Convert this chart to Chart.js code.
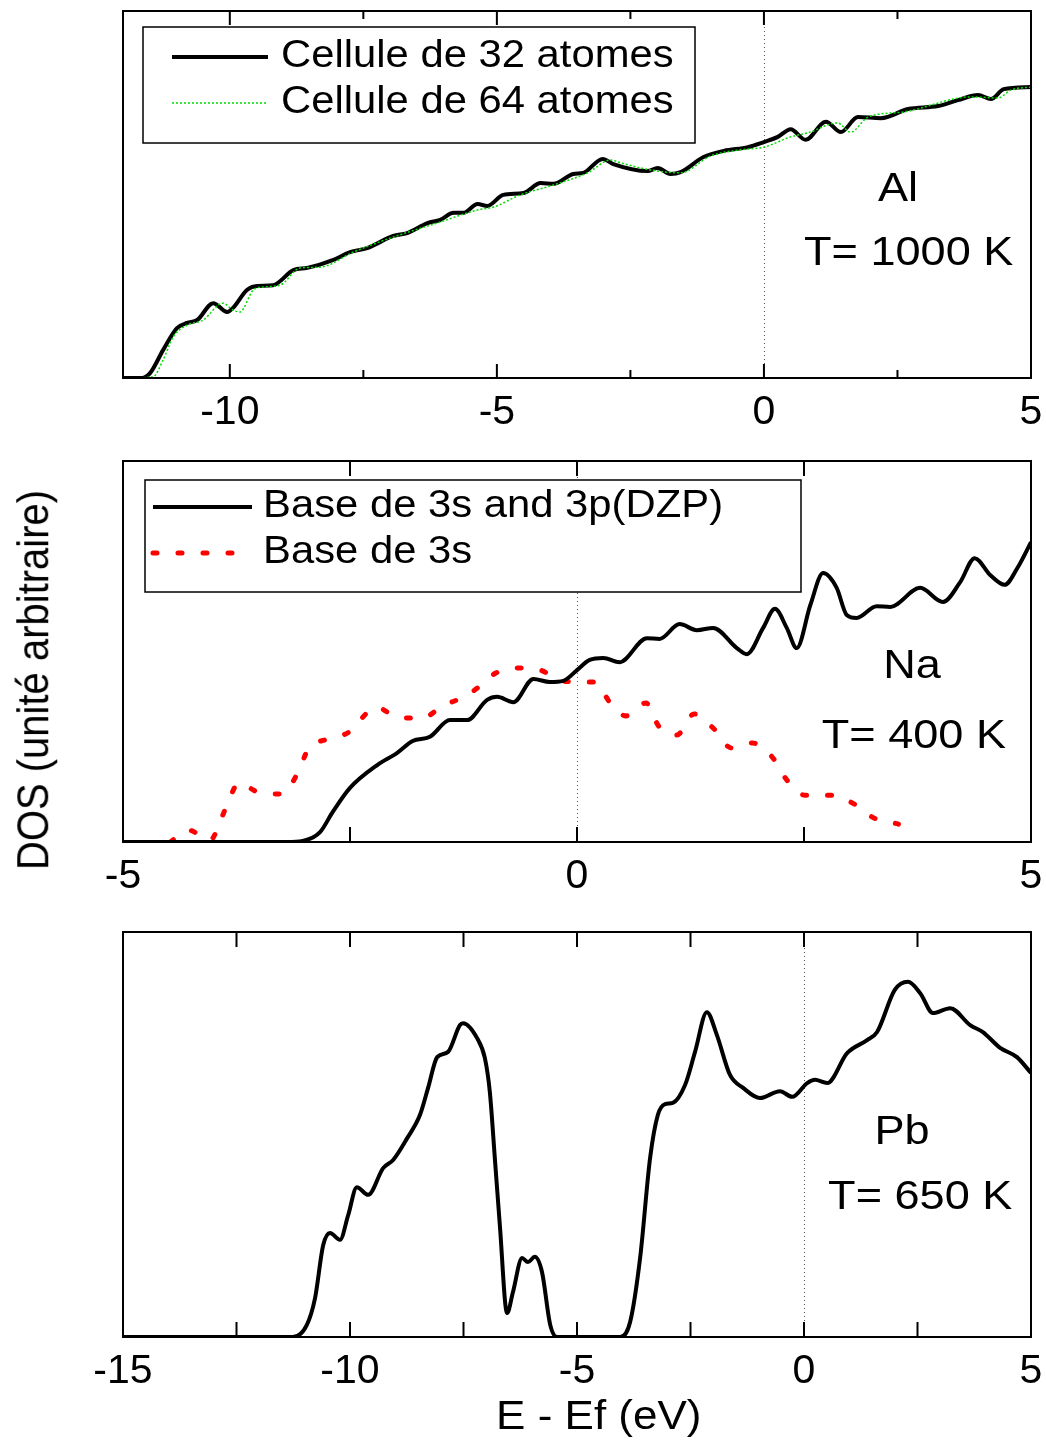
<!DOCTYPE html>
<html>
<head>
<meta charset="utf-8">
<title>DOS Al / Na / Pb</title>
<script src="https://cdn.jsdelivr.net/npm/chart.js@4.4.1/dist/chart.umd.min.js"></script>
<style>
  body { margin: 0; background: #fff; }
  #page { position: relative; width: 1046px; height: 1441px; overflow: hidden; background: #fff; }
  .panel { position: absolute; left: 0; }
  #ylabel {
    position: absolute; left: 33px; top: 680px;
    transform: translate(-50%, -50%) rotate(-90deg) scaleY(1.1);
    font: 40px 'Liberation Sans', Arial, sans-serif; white-space: nowrap; color: #000;
  }
</style>
</head>
<body>
<div id="page">
  <canvas id="chartAl" class="panel" width="1046" height="440" style="top:0px"></canvas>
  <canvas id="chartNa" class="panel" width="1046" height="460" style="top:440px"></canvas>
  <canvas id="chartPb" class="panel" width="1046" height="541" style="top:900px"></canvas>
  <div id="ylabel">DOS (unité arbitraire)</div>
</div>
<script>
// Al, T = 1000 K : energie (eV) et DOS (unite arbitraire)
const alEnergy32 = [-12, -11.65, -11.49, -11.25, -10.99, -10.8, -10.61, -10.31, -10.05, -9.94, -9.68, -9.49, -9.19, -8.81, -8.55, -8.06, -7.75, -7.43, -6.94, -6.68, -6.3, -6.06, -5.81, -5.63, -5.36, -5.18, -4.88, -4.5, -4.18, -3.94, -3.57, -3.38, -3.02, -2.82, -2.18, -1.99, -1.75, -1.56, -1.13, -0.75, -0.3, 0, 0.26, 0.5, 0.78, 1.16, 1.44, 1.76, 2.19, 2.7, 3.26, 3.63, 4.01, 4.25, 4.49, 5];
const alDos32 = [0, 0, 1.4, 7.6, 13.6, 15.0, 15.8, 20.4, 18.0, 19.1, 24.0, 25.1, 25.3, 29.4, 30.0, 32.2, 34.3, 35.4, 38.7, 39.5, 42.2, 43.1, 45.0, 45.0, 47.4, 46.9, 49.9, 50.4, 53.1, 52.9, 55.6, 55.9, 59.7, 58.3, 56.4, 57.2, 55.6, 56.1, 60.2, 61.9, 62.9, 64.3, 65.7, 67.8, 64.9, 69.8, 67.0, 71.1, 70.8, 73.3, 74.1, 75.7, 77.1, 76.0, 78.7, 79.3];
const alEnergy64 = [-12, -11.44, -11.25, -11.06, -10.8, -10.5, -10.13, -9.94, -9.81, -9.56, -9.38, -9.06, -8.68, -8.31, -7.69, -6.94, -6.06, -5.36, -5.06, -4.56, -3.94, -3.3, -2.87, -2.68, -2.12, -1.56, -1.0, -0.49, 0, 0.5, 0.82, 1.38, 1.62, 1.95, 2.62, 3.88, 4.38, 4.63, 5];
const alDos64 = [0, 0.3, 4.9, 11.2, 14.4, 15.8, 20.4, 18.5, 18.0, 24.0, 24.8, 25.3, 30.0, 30.2, 34.3, 38.4, 42.5, 45.8, 46.6, 49.9, 52.6, 55.9, 59.4, 58.6, 56.7, 55.9, 60.5, 62.1, 62.9, 65.7, 66.8, 69.5, 67.0, 71.1, 72.5, 76.6, 76.3, 78.5, 79.3];

// Na, T = 400 K
const naEnergyDzp = [-5, -3.2, -3.02, -2.83, -2.69, -2.5, -2.2, -1.98, -1.81, -1.62, -1.4, -1.21, -0.99, -0.88, -0.7, -0.48, -0.3, -0.15, 0, 0.14, 0.29, 0.47, 0.77, 0.91, 1.13, 1.32, 1.5, 1.76, 1.87, 2.05, 2.18, 2.31, 2.42, 2.57, 2.71, 2.86, 2.97, 3.08, 3.3, 3.45, 3.78, 4.03, 4.22, 4.38, 4.55, 4.71, 4.85, 5];
const naDosDzp = [0, 0, 0.3, 2.6, 7.9, 14.2, 20.2, 23.4, 26.5, 27.6, 32.0, 32.0, 37.3, 38.1, 36.7, 42.8, 42.0, 42.3, 45.1, 47.8, 48.3, 47.2, 53.5, 53.3, 57.2, 55.6, 56.2, 50.9, 49.3, 56.2, 61.2, 56.2, 50.9, 62.2, 70.6, 66.7, 59.6, 58.8, 61.9, 61.7, 66.7, 63.0, 68.2, 74.5, 70.1, 67.5, 71.9, 78.7];
const naEnergy3s = [-4.48, -4.28, -4.04, -3.91, -3.8, -3.73, -3.49, -3.25, -3.07, -2.96, -2.75, -2.51, -2.42, -2.21, -1.98, -1.71, -1.48, -1.23, -1.11, -0.89, -0.65, -0.4, -0.17, 0.09, 0.2, 0.36, 0.54, 0.76, 0.9, 1.1, 1.29, 1.5, 1.7, 1.93, 2.15, 2.31, 2.51, 2.81, 3.05, 3.27, 3.54];
const naDos3s = [0, 3.1, 0.5, 6.6, 12.9, 15.5, 12.9, 12.6, 18.4, 24.4, 27.0, 28.9, 31.2, 35.4, 32.8, 32.5, 35.7, 38.3, 40.2, 44.4, 45.7, 45.1, 42.3, 42.0, 42.0, 36.7, 33.1, 36.5, 30.4, 28.1, 33.6, 29.9, 24.7, 26.0, 22.3, 16.3, 12.3, 12.3, 10.0, 6.3, 4.7];

// Pb, T = 650 K
const pbEnergy = [-15, -11.26, -10.95, -10.77, -10.59, -10.44, -10.22, -10.04, -9.85, -9.6, -9.27, -9.05, -8.74, -8.46, -8.28, -8.08, -7.84, -7.58, -7.51, -7.2, -7.03, -6.92, -6.81, -6.7, -6.54, -6.41, -6.21, -6.08, -5.93, -5.77, -5.59, -5.44, -4.05, -3.83, -3.61, -3.39, -3.22, -3.06, -2.89, -2.62, -2.4, -2.14, -1.92, -1.63, -1.34, -0.97, -0.53, -0.26, 0.07, 0.24, 0.51, 0.95, 1.39, 1.61, 2.0, 2.29, 2.56, 2.84, 3.22, 3.66, 3.94, 4.32, 4.69, 5];
const pbDos = [0, 0, 3.0, 9.6, 22.7, 25.7, 24.0, 30.1, 37.0, 35.1, 41.7, 43.7, 49.1, 54.8, 61.5, 69.1, 70.4, 77.0, 77.5, 73.8, 68.9, 60.5, 44.2, 27.7, 5.9, 11.1, 19.5, 18.5, 19.8, 16.0, 3.0, 0, 0, 3.7, 19.5, 44.2, 54.8, 57.5, 57.8, 62.2, 70.4, 80.2, 74.6, 64.7, 61.5, 59.0, 60.7, 59.3, 62.7, 63.5, 62.7, 70.1, 73.3, 75.3, 85.7, 87.7, 84.9, 80.0, 81.2, 77.0, 75.3, 71.4, 69.1, 65.2];

// graduations de l'axe x (toutes) et celles qui portent un libelle
const alTicks = [-10, -7.5, -5, -2.5, 0, 2.5, 5];
const alTickLabels = [-10, -5, 0, 5];
const naTicks = [-5, -2.5, 0, 2.5, 5];
const naTickLabels = [-5, 0, 5];
const pbTicks = [-15, -12.5, -10, -7.5, -5, -2.5, 0, 2.5, 5];
const pbTickLabels = [-15, -10, -5, 0, 5];

const alLegend = ['Cellule de 32 atomes', 'Cellule de 64 atomes'];
const naLegend = ['Base de 3s and 3p(DZP)', 'Base de 3s'];

const FONT = "'Liberation Sans', Arial, sans-serif";
const STRETCH = 1.1;
Chart.defaults.font.family = FONT;
Chart.defaults.color = '#000';

function pts(xs, ys) {
    return xs.map((x, i) => ({ x: x, y: ys[i] }));
}

// texte legerement elargi, comme sur la figure d'origine
function drawText(ctx, text, x, y, size, align) {
    ctx.save();
    ctx.font = size + 'px ' + FONT;
    ctx.fillStyle = '#000';
    ctx.textBaseline = 'middle';
    ctx.textAlign = align || 'center';
    ctx.translate(x, y);
    ctx.scale(STRETCH, 1);
    ctx.fillText(text, 0, 0);
    ctx.restore();
}

// cadre, graduations internes, ligne E = Ef, legende et annotations
const panelDecor = {
    id: 'panelDecor',
    beforeDatasetsDraw(chart) {
        const { ctx, chartArea: a, scales: { x } } = chart;
        const x0 = Math.round(x.getPixelForValue(0)) + 0.5;
        ctx.save();
        ctx.strokeStyle = '#555';
        ctx.lineWidth = 1;
        ctx.setLineDash([1, 3]);
        ctx.beginPath();
        ctx.moveTo(x0, a.top);
        ctx.lineTo(x0, a.bottom);
        ctx.stroke();
        ctx.restore();
    },
    afterDatasetsDraw(chart, args, opts) {
        const { ctx, chartArea: a, scales: { x, y } } = chart;
        ctx.save();
        ctx.strokeStyle = '#000';
        ctx.lineWidth = 2;
        x.ticks.forEach(t => {
            const px = x.getPixelForValue(t.value);
            const len = opts.labels.includes(t.value) ? opts.major : opts.minor;
            ctx.beginPath();
            ctx.moveTo(px, a.bottom);
            ctx.lineTo(px, a.bottom - len);
            ctx.moveTo(px, a.top);
            ctx.lineTo(px, a.top + len);
            ctx.stroke();
        });
        ctx.strokeRect(a.left, a.top, a.width, a.height);

        const L = opts.legend;
        if (L) {
            const bx = a.left + L.dx, by = a.top + L.dy;
            ctx.fillStyle = '#fff';
            ctx.fillRect(bx, by, L.w, L.h);
            ctx.lineWidth = 1.5;
            ctx.strokeRect(bx, by, L.w, L.h);
            chart.data.datasets.forEach((ds, i) => {
                const ly = by + L.rows[i];
                ctx.save();
                ctx.strokeStyle = ds.borderColor;
                ctx.lineWidth = ds.borderWidth;
                ctx.lineCap = ds.borderCapStyle || 'butt';
                ctx.setLineDash(ds.borderDash || []);
                ctx.beginPath();
                ctx.moveTo(bx + L.line[0], ly);
                ctx.lineTo(bx + L.line[1], ly);
                ctx.stroke();
                ctx.restore();
                drawText(ctx, ds.label, bx + L.textX, ly, L.size, 'left');
            });
        }
        (opts.notes || []).forEach(n => {
            drawText(ctx, n.text, x.getPixelForValue(n.x), y.getPixelForValue(n.y), n.size, 'center');
        });
        if (opts.xTitle) {
            drawText(ctx, opts.xTitle.text, a.left + a.width * opts.xTitle.fx, a.bottom + opts.xTitle.dy, opts.xTitle.size, 'center');
        }
        ctx.restore();
    }
};

function makePanel(id, cfg) {
    return new Chart(document.getElementById(id), {
        type: 'line',
        data: { datasets: cfg.datasets },
        options: {
            responsive: false,
            animation: false,
            layout: { padding: { left: 123, right: 15, top: cfg.top, bottom: 0 } },
            elements: {
                point: { radius: 0 },
                line: { cubicInterpolationMode: 'monotone' }
            },
            plugins: {
                legend: { display: false },
                tooltip: { enabled: false },
                panelDecor: cfg.decor
            },
            scales: {
                x: {
                    type: 'linear',
                    min: cfg.xMin,
                    max: cfg.xMax,
                    grid: { display: false, drawTicks: false },
                    border: { display: false },
                    afterBuildTicks: axis => { axis.ticks = cfg.ticks.map(v => ({ value: v })); },
                    afterFit: axis => {
                        axis.height = cfg.axisHeight;
                        // le cadre est fixe par le padding du layout, pas par les libelles
                        axis.paddingLeft = 0;
                        axis.paddingRight = 0;
                    },
                    ticks: {
                        autoSkip: false,
                        maxRotation: 0,
                        padding: 10,
                        color: '#000',
                        font: { size: 41 },
                        callback: v => cfg.decor.labels.includes(v) ? String(v) : ''
                    }
                },
                y: { display: false, min: 0, max: 100 }
            }
        },
        plugins: [panelDecor]
    });
}

makePanel('chartAl', {
    top: 11, axisHeight: 62, xMin: -12, xMax: 5, ticks: alTicks,
    datasets: [
        { label: alLegend[0], data: pts(alEnergy32, alDos32), borderColor: '#000000', borderWidth: 4, order: 1 },
        { label: alLegend[1], data: pts(alEnergy64, alDos64), borderColor: '#00dd00', borderWidth: 1.5, borderDash: [2, 2], order: 0 }
    ],
    decor: {
        labels: alTickLabels, major: 14, minor: 8,
        legend: { dx: 20, dy: 16, w: 552, h: 116, rows: [30, 76], line: [29, 125], textX: 138, size: 38 },
        notes: [
            { text: 'Al', x: 2.51, y: 51.2, size: 41 },
            { text: 'T= 1000 K', x: 2.71, y: 34, size: 41 }
        ]
    }
});

makePanel('chartNa', {
    top: 21, axisHeight: 58, xMin: -5, xMax: 5, ticks: naTicks,
    datasets: [
        { label: naLegend[0], data: pts(naEnergyDzp, naDosDzp), borderColor: '#000000', borderWidth: 4 },
        { label: naLegend[1], data: pts(naEnergy3s, naDos3s), borderColor: '#ff0000', borderWidth: 5, borderDash: [4, 21], borderCapStyle: 'round' }
    ],
    decor: {
        labels: naTickLabels, major: 15, minor: 15,
        legend: { dx: 22, dy: 19, w: 656, h: 112, rows: [27, 73], line: [8, 107], textX: 118, size: 38 },
        notes: [
            { text: 'Na', x: 3.69, y: 45.9, size: 41 },
            { text: 'T= 400 K', x: 3.71, y: 27.6, size: 41 }
        ]
    }
});

makePanel('chartPb', {
    top: 32, axisHeight: 104, xMin: -15, xMax: 5, ticks: pbTicks,
    datasets: [
        { label: 'Pb', data: pts(pbEnergy, pbDos), borderColor: '#000000', borderWidth: 4 }
    ],
    decor: {
        labels: pbTickLabels, major: 15, minor: 15,
        notes: [
            { text: 'Pb', x: 2.16, y: 50.4, size: 41 },
            { text: 'T= 650 K', x: 2.56, y: 34.3, size: 41 }
        ],
        xTitle: { text: 'E - Ef (eV)', fx: 0.524, dy: 81, size: 40 }
    }
});
</script>
</body>
</html>
